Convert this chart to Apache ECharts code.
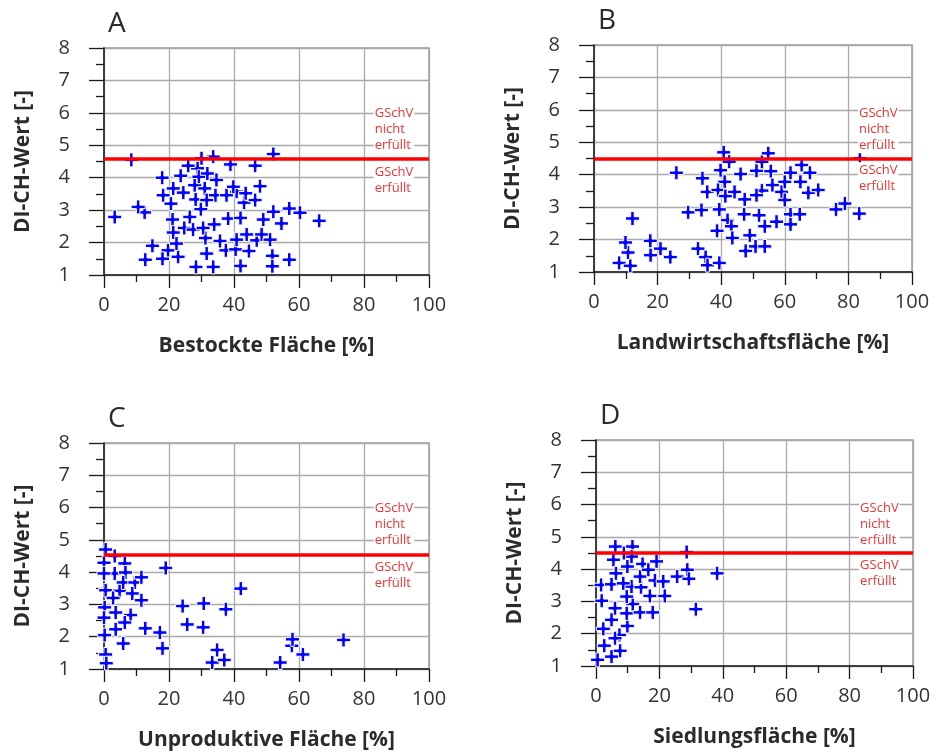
<!DOCTYPE html>
<html><head><meta charset="utf-8">
<script src="https://cdn.jsdelivr.net/npm/echarts@6/dist/echarts.min.js"></script>
<style>html,body{margin:0;padding:0;background:#fff}#c{width:941px;height:754px}</style>
</head><body><div id="c"></div>
<script>
const panelLetters = ['A', 'B', 'C', 'D'];
const xTitles = ['Bestockte Fläche [%]', 'Landwirtschaftsfläche [%]', 'Unproduktive Fläche [%]', 'Siedlungsfläche [%]'];
const yTitle = 'DI-CH-Wert [-]';
const thresholds = [4.6, 4.5, 4.55, 4.5];
const labelAbove = 'GSchV\nnicht\nerfüllt';
const labelBelow = 'GSchV\nerfüllt';
const xRange = [0, 100, 20];
const yRange = [1, 8, 1];

const dataA = [
 [3.3,2.79],[8.4,4.55],[12.5,2.93],[10.5,3.1],[14.9,1.90],[12.7,1.47],[17.9,4.0],[18.2,3.46],[20.6,3.2],
 [21.1,2.71],[21.3,2.31],[19.7,1.76],[22.8,1.56],[18.0,1.5],[22.3,1.97],[21.3,3.67],[23.6,4.06],[24.4,3.54],
 [26.4,2.79],[24.7,2.45],[27.4,2.40],[28.3,1.25],[28.8,4.29],[27.9,3.77],[28.2,3.33],[29.8,3.03],[31.0,3.67],
 [31.6,3.31],[31.2,2.14],[31.6,1.66],[33.6,1.25],[33.6,4.65],[30.0,4.6],[34.6,3.93],[34.3,3.46],[33.9,2.56],
 [30.5,2.45],[35.7,2.05],[37.5,1.76],[37.7,3.46],[38.2,2.74],[38.9,4.41],[40.5,1.79],[42.0,1.28],[42.0,2.76],
 [40.8,3.57],[43.1,3.23],[43.6,3.52],[43.9,2.25],[44.6,1.74],[40.8,2.09],[46.5,4.37],[46.5,3.31],[48.0,3.74],
 [47.0,2.07],[48.5,2.25],[49.0,2.71],[51.1,2.09],[51.8,1.59],[51.8,1.27],[52.1,2.95],[52.1,4.73],[54.6,2.59],
 [57.0,3.05],[57.0,1.47],[60.3,2.92],[66.2,2.67],[25.9,4.37],[39.8,3.72],[29.2,4.03],[31.8,4.13]
];
const dataB = [
 [7.9,1.28],[11.4,1.19],[10.7,1.60],[9.9,1.91],[12.1,2.65],[17.7,1.96],[17.8,1.52],[20.9,1.72],[24.0,1.46],
 [25.9,4.06],[29.6,2.84],[33.8,2.91],[34.1,3.89],[35.6,3.47],[32.7,1.72],[35.1,1.46],[35.7,1.21],[39.4,1.28],
 [38.7,2.27],[39.4,2.93],[39.8,4.14],[40.8,4.69],[42.5,4.40],[41.1,3.78],[39.0,3.53],[41.3,3.34],[44.2,3.47],
 [42.0,2.6],[43.2,2.41],[43.5,2.05],[46.1,4.02],[47.4,3.24],[47.2,2.78],[49.0,2.13],[47.7,1.65],[50.8,1.79],
 [53.7,1.79],[51.9,2.75],[53.7,2.41],[57.4,2.55],[52.8,3.51],[51.1,3.37],[51.1,4.12],[52.8,4.40],[54.8,4.66],
 [55.6,4.11],[56.1,3.68],[59.0,3.47],[60.0,3.78],[61.8,4.06],[61.8,2.78],[61.8,2.47],[64.7,2.78],[64.9,3.78],
 [65.3,4.30],[67.9,4.06],[67.4,3.44],[70.5,3.53],[60.0,3.22],[76.1,2.93],[78.9,3.11],[83.4,2.80],[83.6,4.51]
];
const dataC = [
 [0.5,4.70],[0.0,4.29],[0.5,3.44],[0.2,2.91],[0.2,2.05],[0.5,1.45],[0.7,1.18],[3.3,4.5],[3.3,3.96],[3.6,2.75],
 [3.6,2.23],[5.9,1.79],[6.4,4.27],[6.6,3.99],[4.8,3.42],[5.9,3.68],[9.5,3.68],[8.7,3.34],[8.2,2.67],[6.4,2.44],
 [11.5,3.84],[11.5,3.13],[0.0,3.96],[0.0,2.59],[12.7,2.26],[17.2,2.13],[18.0,1.64],[19.0,4.13],[24.2,2.95],
 [25.6,2.38],[30.7,3.03],[30.5,2.29],[37.5,2.85],[42.1,3.49],[34.8,1.59],[33.3,1.20],[37.0,1.28],[54.2,1.20],
 [57.8,1.72],[58.0,1.92],[61.2,1.45],[73.7,1.90],[2.8,3.2]
];
const dataD = [
 [0.5,1.19],[2.6,1.63],[2.3,2.15],[1.8,3.02],[1.6,3.51],[4.9,3.53],[6.0,2.79],[7.6,1.47],[7.4,1.96],[4.9,2.43],
 [5.5,4.29],[6.1,4.70],[6.3,3.87],[6.0,1.86],[4.9,1.29],[9.9,4.08],[11.5,4.70],[11.2,4.39],[8.8,4.50],[9.9,2.24],
 [11.6,2.92],[9.7,3.15],[9.7,2.63],[11.2,3.46],[8.6,3.56],[13.9,2.66],[14.2,3.44],[14.7,4.16],[13.9,3.77],
 [17.9,2.66],[18.6,3.65],[19.1,4.24],[17.0,3.17],[21.7,3.17],[21.2,3.62],[25.6,3.77],[28.8,3.98],[29.3,3.70],
 [28.6,4.53],[31.5,2.76],[38.2,3.87],[16.5,3.98]
];
const panelData = [dataA, dataB, dataC, dataD];

// layout (pixels)
const grids = [
  {left: 104, top: 48, width: 325, height: 227},
  {left: 594, top: 45, width: 318, height: 227},
  {left: 104, top: 443, width: 325, height: 226},
  {left: 596, top: 440, width: 317, height: 226}
];
const labelTextY = [[5.5, 3.91], [5.4, 3.89], [5.47, 3.9], [5.39, 3.87]];
const labelTextX = 83;

const FONT = '"Open Sans", "Noto Sans", sans-serif';
const plusPath = 'path://M5.25,0H8.75V5.25H14V8.75H8.75V14H5.25V8.75H0V5.25H5.25Z';

const chart = echarts.init(document.getElementById('c'), null, {renderer: 'canvas'});

const option = {
  animation: false,
  backgroundColor: '#fff',
  grid: grids.map(g => Object.assign({show: true, borderColor: '#9b9b9b', borderWidth: 1.5, backgroundColor: 'transparent'}, g)),
  xAxis: grids.map((g, i) => ({
    type: 'value', gridIndex: i, min: xRange[0], max: xRange[1], interval: xRange[2],
    name: xTitles[i], nameLocation: 'middle', nameGap: 61,
    nameTextStyle: {fontFamily: FONT, fontWeight: 'bold', fontSize: 21, color: '#2b2b2b'},
    axisLine: {show: true, onZero: false, lineStyle: {color: '#1a1a1a', width: 1.5}},
    axisTick: {show: true, inside: false, length: 13, lineStyle: {color: '#1a1a1a', width: 1.3}},
    minorTick: {show: true, splitNumber: 2, length: 7, lineStyle: {color: '#1a1a1a', width: 1.3}},
    axisLabel: {fontFamily: FONT, fontSize: 20, color: '#333', margin: 20},
    splitLine: {show: true, lineStyle: {color: '#a9a9a9', width: 1.3}}
  })),
  yAxis: grids.map((g, i) => ({
    type: 'value', gridIndex: i, min: yRange[0], max: yRange[1], interval: yRange[2],
    name: yTitle, nameLocation: 'middle', nameGap: 70, nameRotate: 90,
    nameTextStyle: {fontFamily: FONT, fontWeight: 'bold', fontSize: 21, color: '#2b2b2b'},
    axisLine: {show: true, onZero: false, lineStyle: {color: '#1a1a1a', width: 1.5}},
    axisTick: {show: true, inside: false, length: 15, lineStyle: {color: '#1a1a1a', width: 1.3}},
    minorTick: {show: true, splitNumber: 2, length: 8, lineStyle: {color: '#1a1a1a', width: 1.3}},
    axisLabel: {fontFamily: FONT, fontSize: 20, color: '#333', margin: 34, padding: [0, 0, 11, 0]},
    splitLine: {show: true, lineStyle: {color: '#a9a9a9', width: 1.3}}
  })),
  series: panelData.map((d, i) => ({
    type: 'scatter', xAxisIndex: i, yAxisIndex: i, data: d,
    symbol: plusPath, symbolSize: 14, symbolKeepAspect: true,
    itemStyle: {color: '#0000ff', borderColor: '#ffffff', borderWidth: 1, opacity: 1},
    clip: false, z: 3,
    markLine: {
      silent: true, symbol: ['none', 'none'], z: 4,
      label: {show: false},
      lineStyle: {color: '#ff0000', width: 3.5, type: 'solid'},
      data: [{yAxis: thresholds[i]}]
    }
  }))
};
chart.setOption(option);

const graphics = [];
grids.forEach((g, i) => {
  const pUp = chart.convertToPixel({gridIndex: i}, [labelTextX, labelTextY[i][0]]);
  const pDn = chart.convertToPixel({gridIndex: i}, [labelTextX, labelTextY[i][1]]);
  [[pUp, labelAbove], [pDn, labelBelow]].forEach(([p, t]) => {
    graphics.push({
      type: 'text', x: p[0], y: p[1], z: 10,
      style: {text: t, fill: '#ee3535', font: '13px ' + FONT, lineHeight: 16,
        align: 'left', verticalAlign: 'middle', backgroundColor: '#fff', padding: [0, 1, 0, 1]}
    });
  });
  graphics.push({
    type: 'text', x: g.left + 4, y: g.top - 24, z: 10,
    style: {text: panelLetters[i], fill: '#2b2b2b', font: '28px ' + FONT, align: 'left', verticalAlign: 'middle'}
  });
});
chart.setOption({graphic: graphics});
</script></body></html>
